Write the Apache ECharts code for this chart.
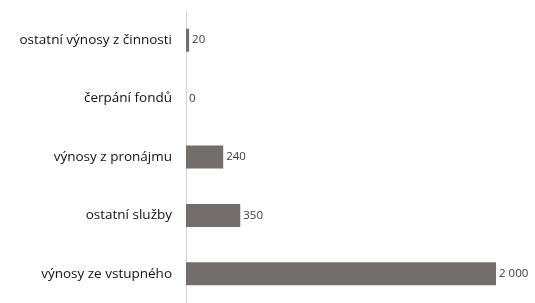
<!DOCTYPE html>
<html lang="cs">
<head>
    <meta charset="UTF-8">
    <title>Výnosy</title>
    <script src="https://cdn.jsdelivr.net/npm/echarts@6/dist/echarts.min.js"></script>
    <style>
        html, body { margin: 0; padding: 0; background: #fff; }
        #main { width: 535px; height: 303px; }
    </style>
</head>
<body>
<div id="main"></div>
<script type="text/javascript">
    // kategorie shora dolu (osa y je obrácená)
    var categories = ['ostatní výnosy z činnosti', 'čerpání fondů', 'výnosy z pronájmu', 'ostatní služby', 'výnosy ze vstupného'];
    var values = [20, 0, 240, 350, 2000];

    var myChart = echarts.init(document.getElementById('main'));

    var option = {
        animation: false,
        backgroundColor: '#fff',
        grid: {
            left: 186,
            top: 11,
            width: 310,
            bottom: -3,
            containLabel: false
        },
        xAxis: {
            type: 'value',
            min: 0,
            max: 2000,
            show: false
        },
        yAxis: {
            type: 'category',
            inverse: true,
            data: categories,
            axisLine: { lineStyle: { color: '#d4d4d4', width: 1 } },
            axisTick: { length: 4, lineStyle: { color: '#d4d4d4' } },
            axisLabel: {
                color: '#111',
                fontFamily: 'Open Sans',
                fontSize: 13.5,
                margin: 14
            }
        },
        series: [{
            type: 'bar',
            data: values,
            barWidth: 23,
            itemStyle: {
                color: '#736e6c'
            },
            label: {
                show: true,
                position: 'right',
                distance: 3,
                color: '#3c3c3c',
                fontFamily: 'Open Sans',
                fontSize: 11.5,
                formatter: function (p) {
                    return String(p.value).replace(/\B(?=(\d{3})+(?!\d))/g, ' ');
                }
            }
        }]
    };

    myChart.setOption(option);
</script>
</body>
</html>
